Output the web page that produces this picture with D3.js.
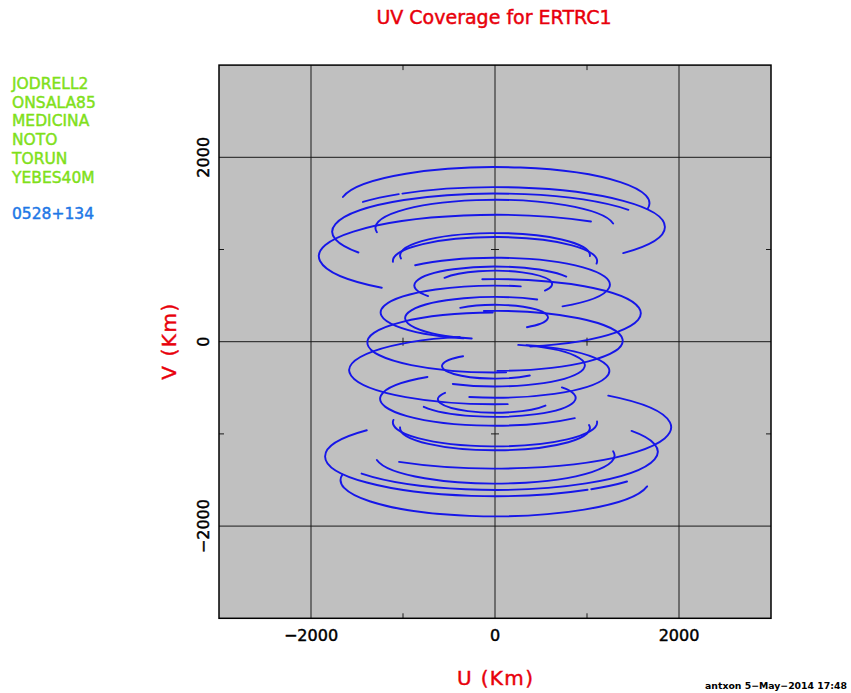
<!DOCTYPE html>
<html><head><meta charset="utf-8">
<script src="https://cdn.jsdelivr.net/npm/d3@7"></script>
<style>
body{margin:0;background:#fff}
svg{display:block}
text{font-family:"DejaVu Sans",sans-serif}
</style>
</head><body>
<svg id="chart" width="851" height="693"></svg>
<script>
// ---- data (km / degrees of track angle) ----
const stations = ["JODRELL2","ONSALA85","MEDICINA","NOTO","TORUN","YEBES40M"];
const sourceName = "0528+134";
const baselines = ["JB-ON","JB-MC","JB-NT","JB-TR","JB-YS","ON-MC","ON-NT","ON-TR","ON-YS","MC-NT","MC-TR","MC-YS","NT-TR","NT-YS","TR-YS"];
const semiU   = [ 977, 1249, 1847, 1388, 1032, 1110, 1679,  576, 1770,  621,  877, 1243, 1300, 1585, 1915];
const semiV   = [ 229,  292,  432,  325,  241,  260,  393,  135,  414,  145,  205,  291,  304,  371,  448];
const centerV = [ 256,  619, 1244,    9,  937,  875, 1501,  265, 1193,  625,  610,  317, 1235,  308,  928];
const startT  = [-165,  -44,  -51,   -5,  -98,  -92,  -80,  -41, -123,  -62, -124, -164,  -99,   -5, -140];
const endT    = [  28,  144,  131,  179,   92,   96,   99,  143,   55,  119,   62,   13,   81,  166,   33];
const gapStart = [null,null, -34.5,null,null,null,null,null,null,null,null,null,null,null,null];
const gapEnd   = [null,null, -33,  null,null,null,null,null,null,null,null,null,null,null,null];
const gridValues = [-2000, 0, 2000];
const minorValues = [-1000, 1000];
const xTickLabels = ["\u22122000", "0", "2000"];
const yTickLabels = ["\u22122000", "0", "2000"];

// ---- layout ----
const svg = d3.select("#chart");
const x = d3.scaleLinear().domain([-3000, 3000]).range([219, 771]);
const y = d3.scaleLinear().domain([-3000, 3000]).range([618.3, 65.1]);
const rad = Math.PI / 180;

svg.append("rect").attr("x", x(-3000)).attr("y", y(3000))
  .attr("width", x(3000) - x(-3000)).attr("height", y(-3000) - y(3000))
  .attr("fill", "#c0c0c0");

// grid
const g = svg.append("g").attr("stroke", "#1a1a1a").attr("stroke-width", 1);
gridValues.forEach(v => {
  g.append("line").attr("x1", x(v)).attr("x2", x(v)).attr("y1", y(3000)).attr("y2", y(-3000));
  g.append("line").attr("y1", y(v)).attr("y2", y(v)).attr("x1", x(-3000)).attr("x2", x(3000));
});
// minor ticks
minorValues.forEach(v => {
  g.append("line").attr("x1", x(v)).attr("x2", x(v)).attr("y1", y(-3000)).attr("y2", y(-3000) - 5);
  g.append("line").attr("x1", x(v)).attr("x2", x(v)).attr("y1", y(3000)).attr("y2", y(3000) + 5);
  g.append("line").attr("y1", y(v)).attr("y2", y(v)).attr("x1", x(-3000)).attr("x2", x(-3000) + 5);
  g.append("line").attr("y1", y(v)).attr("y2", y(v)).attr("x1", x(3000)).attr("x2", x(3000) - 5);
  g.append("line").attr("x1", x(v)).attr("x2", x(v)).attr("y1", y(0) - 4).attr("y2", y(0) + 4);
  g.append("line").attr("y1", y(v)).attr("y2", y(v)).attr("x1", x(0) - 4).attr("x2", x(0) + 4);
});

// tracks
const tracks = svg.append("g").attr("fill", "none").attr("stroke", "#1616e8")
  .attr("stroke-width", 1.9).attr("stroke-linecap", "round");
function arcPath(i, s, t1, t2) {
  const a = semiU[i], b = semiV[i], c = centerV[i];
  const p = t => [x(s * a * Math.sin(t * rad)), y(s * (c + b * Math.cos(t * rad)))];
  const [x1, y1] = p(t1), [x2, y2] = p(t2);
  const rx = x(a) - x(0), ry = y(0) - y(b);
  const large = (t2 - t1) > 180 ? 1 : 0;
  return `M${x1},${y1}A${rx},${ry} 0 ${large} 1 ${x2},${y2}`;
}
baselines.forEach((name, i) => {
  const segs = gapStart[i] == null ? [[startT[i], endT[i]]]
    : [[startT[i], gapStart[i]], [gapEnd[i], endT[i]]];
  [1, -1].forEach(s => segs.forEach(([t1, t2]) => {
    tracks.append("path").attr("d", arcPath(i, s, t1, t2));
  }));
});

// border
svg.append("rect").attr("x", x(-3000)).attr("y", y(3000))
  .attr("width", x(3000) - x(-3000)).attr("height", y(-3000) - y(3000))
  .attr("fill", "none").attr("stroke", "#000").attr("stroke-width", 1.5);

// helper for slightly heavier (pen-plotter like) text
function txt(color, size) {
  return svg.append("text").attr("font-size", size).attr("fill", color)
    .attr("stroke", color).attr("stroke-width", 0.45);
}

// tick labels
gridValues.forEach((v, i) => {
  txt("#000", 16).attr("x", x(v)).attr("y", 640.5).attr("text-anchor", "middle").text(xTickLabels[i]);
  txt("#000", 16).attr("transform", `translate(208.5,${y(v)}) rotate(-90)`)
    .attr("text-anchor", "middle").text(yTickLabels[i]);
});

// titles
txt("#e8000b", 19).attr("x", 494).attr("y", 24).attr("text-anchor", "middle").text("UV Coverage for ERTRC1");
txt("#e8000b", 20).attr("x", 495).attr("y", 685).attr("text-anchor", "middle")
  .attr("textLength", 76).text("U (Km)");
txt("#e8000b", 20).attr("transform", `translate(175.5,${y(0)}) rotate(-90)`)
  .attr("text-anchor", "middle").attr("textLength", 76).text("V (Km)");

// legend
stations.forEach((st, i) => {
  txt("#7fe01a", 15.5).attr("x", 12).attr("y", 89 + i * 18.7).text(st);
});
txt("#1e78e6", 15.5).attr("x", 12).attr("y", 219).text(sourceName);

// footer
svg.append("text").attr("x", 705).attr("y", 689).attr("font-size", 9.5)
  .attr("font-weight", "bold").attr("fill", "#000").attr("textLength", 142)
  .attr("lengthAdjust", "spacingAndGlyphs").text("antxon  5\u2212May\u22122014 17:48");
</script>
</body></html>
